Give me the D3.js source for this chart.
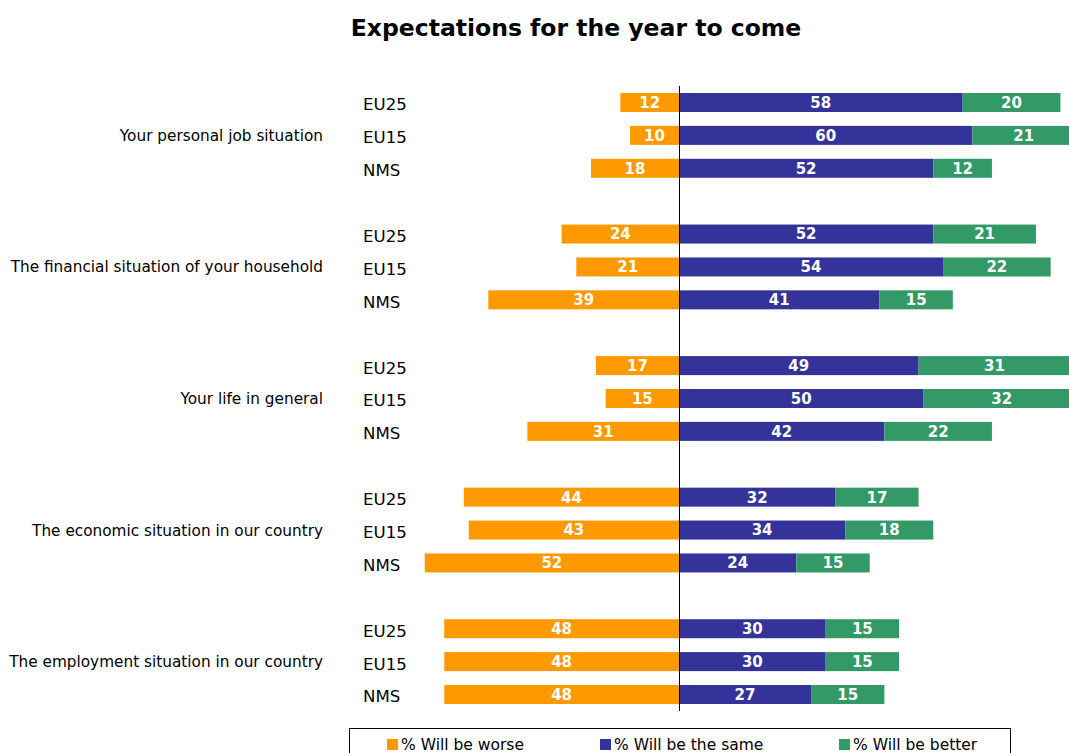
<!DOCTYPE html>
<html>
<head>
<meta charset="utf-8">
<script src="https://cdn.jsdelivr.net/npm/d3@7"></script>
<style>
  html, body { margin: 0; padding: 0; background: #fff; }
  svg { display: block; font-family: "DejaVu Sans", Verdana, sans-serif; }
</style>
</head>
<body>
<svg id="chart" width="1069" height="753"></svg>
<script>
// Survey items, one group of three bars each
const categories = [
  "Your personal job situation",
  "The financial situation of your household",
  "Your life in general",
  "The economic situation in our country",
  "The employment situation in our country"
];
const regions = ["EU25", "EU15", "NMS"];

// Percentages per item, in region order EU25, EU15, NMS
const worse  = [[12, 10, 18], [24, 21, 39], [17, 15, 31], [44, 43, 52], [48, 48, 48]];
const same   = [[58, 60, 52], [52, 54, 41], [49, 50, 42], [32, 34, 24], [30, 30, 27]];
const better = [[20, 21, 12], [21, 22, 15], [31, 32, 22], [17, 18, 15], [15, 15, 15]];

const seriesNames = ["% Will be worse", "% Will be the same", "% Will be better"];
const colors = ["#FF9900", "#333399", "#339966"];

const svg = d3.select("#chart");

// Horizontal value scale: zero at the divider, "worse" extends left
const x = d3.scaleLinear().domain([0, 100]).range([679, 1168]);

// Row centres: 3 rows per item plus one blank row between items
const y = d3.scaleLinear().domain([0, 18]).range([102.5, 694.5]);
const barH = 19;

// Build flat row records
const rows = [];
categories.forEach((cat, g) => {
  regions.forEach((reg, r) => {
    rows.push({
      cat, reg, g, r,
      idx: g * 4 + r,
      worse: worse[g][r],
      same: same[g][r],
      better: better[g][r]
    });
  });
});

// Title
svg.append("text")
  .attr("x", 576).attr("y", 36)
  .attr("text-anchor", "middle")
  .attr("font-size", 23.5).attr("font-weight", "bold")
  .attr("fill", "#000")
  .text("Expectations for the year to come");

// Segments
const segs = [];
rows.forEach(d => {
  segs.push({ row: d, s: 0, x0: -d.worse, x1: 0, v: d.worse });
  segs.push({ row: d, s: 1, x0: 0, x1: d.same, v: d.same });
  segs.push({ row: d, s: 2, x0: d.same, x1: d.same + d.better, v: d.better });
});

svg.append("g").selectAll("rect").data(segs).join("rect")
  .attr("x", d => x(d.x0))
  .attr("width", d => x(d.x1) - x(d.x0))
  .attr("y", d => y(d.row.idx) - barH / 2)
  .attr("height", barH)
  .attr("fill", d => colors[d.s]);

svg.append("g").selectAll("text").data(segs).join("text")
  .attr("x", d => (x(d.x0) + x(d.x1)) / 2)
  .attr("y", d => y(d.row.idx))
  .attr("dy", "0.36em")
  .attr("text-anchor", "middle")
  .attr("font-size", 15).attr("font-weight", "bold")
  .attr("fill", "#fff")
  .text(d => d.v);

// Zero divider
svg.append("line")
  .attr("x1", x(0) + 0.5).attr("x2", x(0) + 0.5)
  .attr("y1", 86).attr("y2", 711)
  .attr("stroke", "#000").attr("stroke-width", 1);

// Region labels
svg.append("g").selectAll("text").data(rows).join("text")
  .attr("x", 363)
  .attr("y", d => y(d.idx) + 2)
  .attr("dy", "0.36em")
  .attr("font-size", 16.6)
  .attr("fill", "#000")
  .text(d => d.reg);

// Item labels, aligned with the middle row of each group
svg.append("g").selectAll("text").data(categories).join("text")
  .attr("x", 323)
  .attr("y", (d, g) => y(g * 4 + 1))
  .attr("dy", "0.36em")
  .attr("text-anchor", "end")
  .attr("font-size", 15.3)
  .attr("fill", "#000")
  .text(d => d);

// Legend
const legend = svg.append("g");
legend.append("rect")
  .attr("x", 349.5).attr("y", 728.5)
  .attr("width", 661).attr("height", 40)
  .attr("fill", "#fff").attr("stroke", "#000").attr("stroke-width", 1);

const legendX = [387, 600, 839];
seriesNames.forEach((name, i) => {
  legend.append("rect")
    .attr("x", legendX[i]).attr("y", 739)
    .attr("width", 11).attr("height", 11)
    .attr("fill", colors[i]);
  legend.append("text")
    .attr("x", legendX[i] + 14).attr("y", 744.5)
    .attr("dy", "0.36em")
    .attr("font-size", 15.5)
    .attr("fill", "#000")
    .text(name);
});
</script>
</body>
</html>
